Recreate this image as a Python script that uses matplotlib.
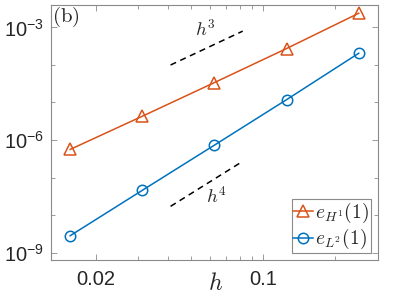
import matplotlib
matplotlib.use("Agg")
import matplotlib.pyplot as plt
from matplotlib.font_manager import FontProperties
from matplotlib.ticker import FixedLocator, NullFormatter

# ---- data ----
h = [1/64, 1/32, 1/16, 1/8, 1/4]
e_H1 = [5.6e-7, 4.3e-6, 3.4e-5, 2.75e-4, 2.4e-3]
e_L2 = [2.8e-9, 4.55e-8, 7.3e-7, 1.19e-5, 2.06e-4]
ref3_h = [0.041, 0.082]
ref3_e = [1.0e-4, 8.0e-4]
ref4_h = [0.041, 0.082]
ref4_e = [1.7e-8, 2.7e-7]
xtick_vals = [0.02, 0.1]
xtick_labels = ["0.02", "0.1"]
ytick_vals = [1e-9, 1e-6, 1e-3]
ytick_labels = [r"$\mathregular{10^{-9}}$", r"$\mathregular{10^{-6}}$", r"$\mathregular{10^{-3}}$"]
legend_labels = [r"$e_{H^1}(1)$", r"$e_{L^2}(1)$"]

plt.rcParams["font.family"] = ["Liberation Sans", "DejaVu Sans"]
plt.rcParams["mathtext.fontset"] = "custom"
plt.rcParams["mathtext.rm"] = "Liberation Sans"
plt.rcParams["mathtext.it"] = "Liberation Sans:italic"

orange = "#D95319"
blue = "#0072BD"
spine_c = "#8a8a8a"
text_c = "#262626"

fig = plt.figure(figsize=(3.95, 2.96), dpi=100)
ax = fig.add_axes([51/395, 36/296, 326.7/395, 255/296])

l1, = ax.loglog(h, e_H1, "-", color=orange, lw=1.1, marker="^", ms=8.5,
                mfc="none", mew=1.1)
l2, = ax.loglog(h, e_L2, "-", color=blue, lw=1.1, marker="o", ms=7.5,
                mfc="none", mew=1.1)
ax.loglog(ref3_h, ref3_e, "--", color="black", lw=1.1, dashes=(4, 3))
ax.loglog(ref4_h, ref4_e, "--", color="black", lw=1.1, dashes=(4, 3))

ax.text(0.0573, 9.0e-4, r"$h^3$", math_fontfamily="cm", fontsize=13.5,
        ha="center", va="center", color=text_c)
ax.text(0.0637, 3.1e-8, r"$h^4$", math_fontfamily="cm", fontsize=13.5,
        ha="center", va="center", color=text_c)
ax.text(0.004, 1.0, r"$\mathrm{(b)}$", math_fontfamily="cm", fontsize=15,
        ha="left", va="top", transform=ax.transAxes, color=text_c)

ax.set_xlim(0.013, 0.3)
ax.set_ylim(10**-9.2, 10**-2.4)

ax.xaxis.set_major_locator(FixedLocator(xtick_vals))
ax.set_xticklabels(xtick_labels, fontsize=14.5, color=text_c)
ax.xaxis.set_minor_locator(FixedLocator([0.03, 0.04, 0.05, 0.06, 0.07, 0.08, 0.09, 0.2]))
ax.xaxis.set_minor_formatter(NullFormatter())

ax.yaxis.set_major_locator(FixedLocator(ytick_vals))
ax.set_yticklabels(ytick_labels, fontsize=14.5, color=text_c)
ax.yaxis.set_minor_locator(FixedLocator([1e-8, 1e-7, 1e-5, 1e-4]))
ax.yaxis.set_minor_formatter(NullFormatter())

ax.tick_params(which="both", direction="in", top=True, right=True,
               color=spine_c, width=0.6)
ax.tick_params(which="major", length=4, pad=5)
ax.tick_params(which="minor", length=3)
ax.tick_params(axis="x", which="major", pad=7)
for s in ax.spines.values():
    s.set_color(spine_c)
    s.set_linewidth(0.8)

ax.set_xlabel(r"$h$", math_fontfamily="cm", fontsize=17, color=text_c)
ax.xaxis.set_label_coords(0.505, -0.05)

leg = ax.legend([l1, l2], legend_labels, loc="lower right",
                bbox_to_anchor=(0.9786, 0.026), borderaxespad=0,
                prop=FontProperties(size=14, math_fontfamily="cm"),
                handlelength=1.0, handletextpad=0.1, borderpad=0.1,
                labelspacing=0.12, fancybox=False, framealpha=1)
leg.get_frame().set_edgecolor(spine_c)
leg.get_frame().set_linewidth(0.8)
for t in leg.get_texts():
    t.set_color(text_c)

fig.savefig("out.png", dpi=100)
